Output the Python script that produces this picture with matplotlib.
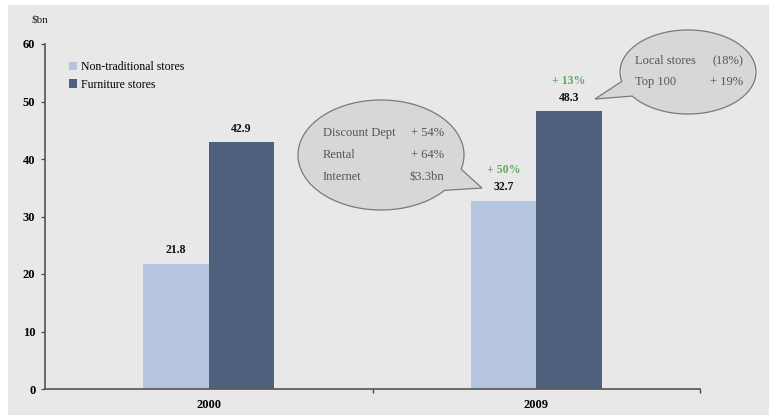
import matplotlib
matplotlib.use("Agg")
import matplotlib.pyplot as plt
import numpy as np
from matplotlib.path import Path
from matplotlib.patches import PathPatch, Rectangle

years = ["2000", "2009"]
non_traditional = [21.8, 32.7]
furniture = [42.9, 48.3]
growth_labels = ["", "+ 50%"]
growth_furn = ["", "+ 13%"]
series_names = ["Non-traditional stores", "Furniture stores"]
yticks = [0, 10, 20, 30, 40, 50, 60]
callout1 = [("Discount Dept", "+ 54%"), ("Rental", "+ 64%"), ("Internet", "$3.3bn")]
callout2 = [("Local stores", "(18%)"), ("Top 100", "+ 19%")]

W, H = 769, 417
fig = plt.figure(figsize=(W / 100, H / 100), dpi=100)
fig.patch.set_facecolor("white")

def fx(x):
    return x / W

def fy(y):
    return 1 - y / H

# background panel
fig.patches.append(Rectangle((fx(8), fy(415)), fx(761), (415 - 5) / H,
                             transform=fig.transFigure, facecolor="#e8e8e8",
                             edgecolor="none", zorder=-5))

ax = fig.add_axes([fx(45), fy(389), fx(700) - fx(45), fy(44) - fy(389)])
ax.set_facecolor("none")
ax.set_zorder(1)

light = "#b5c5df"
dark = "#4f607c"
serif = ["Liberation Serif", "DejaVu Serif"]

x = np.arange(len(years))
w = 0.2
off = 0.1
ax.bar(x - off, non_traditional, w, color=light, label=series_names[0], zorder=2)
ax.bar(x + off, furniture, w, color=dark, label=series_names[1], zorder=2)

ax.set_xlim(-0.5, 1.5)
ax.set_ylim(0, 60)

for i in range(len(years)):
    ax.text(x[i] - off, non_traditional[i] + 1.3, f"{non_traditional[i]:.1f}",
            ha="center", va="bottom", fontsize=8.5, fontweight="bold", family=serif, color="#111111")
    ax.text(x[i] + off, furniture[i] + 1.3, f"{furniture[i]:.1f}",
            ha="center", va="bottom", fontsize=8.5, fontweight="bold", family=serif, color="#111111")
    if growth_labels[i]:
        ax.text(x[i] - off, non_traditional[i] + 4.3, growth_labels[i],
                ha="center", va="bottom", fontsize=8.5, fontweight="bold", family=serif, color="#62aa62")
    if growth_furn[i]:
        ax.text(x[i] + off, furniture[i] + 4.3, growth_furn[i],
                ha="center", va="bottom", fontsize=8.5, fontweight="bold", family=serif, color="#62aa62")

# axes styling
for s in ["top", "right"]:
    ax.spines[s].set_visible(False)
for s in ["left", "bottom"]:
    ax.spines[s].set_color("#555555")
    ax.spines[s].set_linewidth(1.2)
ax.set_yticks(yticks)
ax.set_yticklabels([str(v) for v in yticks], fontsize=9, fontweight="bold", family=serif)
ax.tick_params(axis="y", length=3, width=0.9, color="#444444", pad=4)
ax.set_xticks([0.5, 1.5], minor=False)
ax.set_xticklabels(["", ""])
ax.tick_params(axis="x", length=3, width=1.0, color="#444444")
ax.set_xticks(x, minor=True)
ax.set_xticklabels(years, minor=True, fontsize=9, fontweight="bold", family=serif)
ax.tick_params(axis="x", which="minor", length=0, pad=7.5)

fig.text(fx(32), fy(20), "$bn", fontsize=8, family=serif, va="center", ha="left", color="#222222")

# legend
ax.legend(loc="upper left", bbox_to_anchor=(0.029, 0.965),
          frameon=False, prop={"family": serif, "size": 8.5},
          handlelength=0.7, handleheight=0.7, handletextpad=0.3, labelspacing=0.5,
          borderaxespad=0)

# callouts
def callout(cx, cy, a, b, t1, t2, tip):
    t1r, t2r = np.radians(t1), np.radians(t2)
    ts = np.linspace(t2r, t1r + 2 * np.pi, 200)
    pts = [(cx + a * np.cos(t), cy + b * np.sin(t)) for t in ts]
    pts.append(tip)
    pts.append(pts[0])
    verts = [(fx(px), fy(py)) for px, py in pts]
    codes = [Path.MOVETO] + [Path.LINETO] * (len(verts) - 2) + [Path.CLOSEPOLY]
    p = PathPatch(Path(verts, codes), transform=fig.transFigure, facecolor="#d7d7d7",
                  edgecolor="#7a7a7a", linewidth=0.9, zorder=5)
    fig.patches.append(p)

callout(381, 155, 83, 55, 15, 40, (482, 188))
callout(688, 72, 68, 42, 145, 167, (595, 99))

gray_txt = "#555555"
for k, (lab, val) in enumerate(callout1):
    yy = 133 + k * 22
    fig.text(fx(323), fy(yy), lab, fontsize=9, family=serif, color=gray_txt, va="center", ha="left", zorder=6)
    fig.text(fx(444), fy(yy), val, fontsize=9, family=serif, color=gray_txt, va="center", ha="right", zorder=6)
for k, (lab, val) in enumerate(callout2):
    yy = 61 + k * 21
    fig.text(fx(635), fy(yy), lab, fontsize=9, family=serif, color=gray_txt, va="center", ha="left", zorder=6)
    fig.text(fx(743), fy(yy), val, fontsize=9, family=serif, color=gray_txt, va="center", ha="right", zorder=6)

fig.savefig("out.png", dpi=100)
